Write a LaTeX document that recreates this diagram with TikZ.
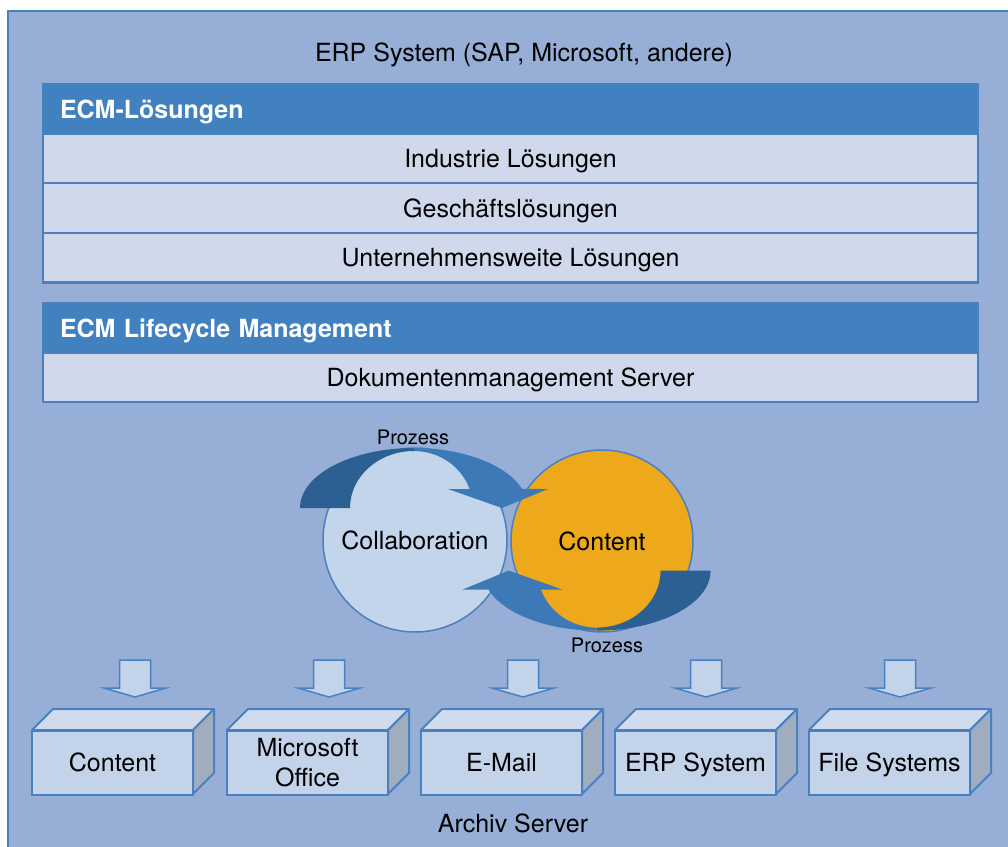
\documentclass[tikz,border=0pt]{standalone}
\usepackage{fontspec}
\setmainfont{TeX Gyre Heros}
\definecolor{bgc}{HTML}{97AED6}
\definecolor{bord}{HTML}{4A80C0}
\definecolor{hdrc}{HTML}{4281C0}
\definecolor{rowc}{HTML}{D0D9EC}
\definecolor{circl}{HTML}{C3D5EB}
\definecolor{orng}{HTML}{EDA81B}
\definecolor{darkar}{HTML}{2C5F92}
\definecolor{lightar}{HTML}{3C79B6}
\definecolor{frontc}{HTML}{C3D4EA}
\definecolor{topc}{HTML}{D0DCEE}
\definecolor{sidec}{HTML}{9FADBF}
\begin{document}
\begin{tikzpicture}[x=1pt,y=-1pt,
  every node/.style={font=\fontsize{25}{30}\selectfont, text=black, inner sep=0pt},
  capc/.style={text height=18pt, text depth=0pt},
  hdrbox/.style={capc, fill=hdrc, minimum height=50pt, text width=901pt, inner xsep=17pt, align=left,
     font=\fontsize{25}{30}\selectfont\bfseries, text=white},
  rowbox/.style={capc, fill=rowc, draw=bord, line width=2pt, minimum width=935pt, minimum height=49.5pt},
  bigcircle/.style={capc, circle, draw=bord, line width=1.5pt},
  frontbox/.style={fill=frontc, draw=bord, line width=2pt, minimum width=161pt, minimum height=64pt, align=center,
     font=\fontsize{25}{30}\selectfont},
  facestyle/.style={draw=bord, line width=2pt, line join=round},
  downarrow/.style={fill=frontc, draw=bord, line width=1.5pt, line join=miter},
  small/.style={font=\fontsize{20}{24}\selectfont, text height=14.4pt, text depth=0pt},
  none/.style={}
]
\useasboundingbox (0,0) rectangle (1008,846);
\fill[white] (0,0) rectangle (1008,846);
\filldraw[fill=bgc, draw=bord, line width=2.5pt] (8,11) rectangle (1020,860);

% title
\node[capc] (title) at (524,52) {ERP System (SAP, Microsoft, andere)};

% ECM-Loesungen group
\node[hdrbox] (h1) at (510.5,109.5) {ECM-Lösungen};
\node[rowbox] (r1) at (510.5,158.5) {Industrie Lösungen};
\node[rowbox] (r2) at (510.5,208) {Geschäftslösungen};
\node[rowbox] (r3) at (510.5,257.5) {Unternehmensweite Lösungen};
\draw[bord, line width=2pt] (43,84) rectangle (978,282.5);

% Lifecycle group
\node[hdrbox] (h2) at (510.5,328) {ECM Lifecycle Management};
\node[rowbox] (r4) at (510.5,377.5) {Dokumentenmanagement Server};
\draw[bord, line width=2pt] (43,302.5) rectangle (978,402);

% circles
\node[bigcircle, fill=circl, minimum size=184pt] (collab) at (415,540) {Collaboration};
\node[bigcircle, fill=orng, minimum size=182pt] (content) at (602,541) {Content};

% process arrows
\foreach \rot in {0,180}{
\begin{scope}[rotate around={\rot:(505.3,539.3)}]
  \fill[darkar] (300,508) arc[start angle=180, end angle=270, x radius=114, y radius=60]
     -- (414,451) arc[start angle=270, end angle=180, x radius=64, y radius=57] -- cycle;
  \fill[lightar] (414,448) arc[start angle=270, end angle=341.5, x radius=114, y radius=60]
     -- (548,489) -- (502,508) -- (448,489) -- (469.6,489)
     arc[start angle=340.5, end angle=270, x radius=59, y radius=57] -- cycle;
\end{scope}}

\node[small] (p1) at (413,437) {Prozess};
\node[small] (p2) at (607,645) {Prozess};

% storage boxes
\foreach \L/\A/\n/\s/\t in {32/135/b1/capc/{Content}, 227/329/b2/none/{Microsoft\\Office}, 421/523/b3/capc/{E-Mail},
                          615/706/b4/capc/{ERP System}, 809/900/b5/capc/{File Systems}}{
  \filldraw[downarrow] (\A-15.5,660) -- (\A+15.5,660) -- (\A+15.5,688) -- (\A+31,688) -- (\A,697)
      -- (\A-31,688) -- (\A-15.5,688) -- cycle;
  \filldraw[facestyle, fill=topc] (\L,730) -- (\L+21,709) -- (\L+182,709) -- (\L+161,730) -- cycle;
  \filldraw[facestyle, fill=sidec] (\L+161,730) -- (\L+182,709) -- (\L+182,773) -- (\L+161,794) -- cycle;
  \node[frontbox, \s] (\n) at (\L+80.5,762.5) {\t};
}

\node[capc] (archiv) at (513,823) {Archiv Server};
\end{tikzpicture}
\end{document}
